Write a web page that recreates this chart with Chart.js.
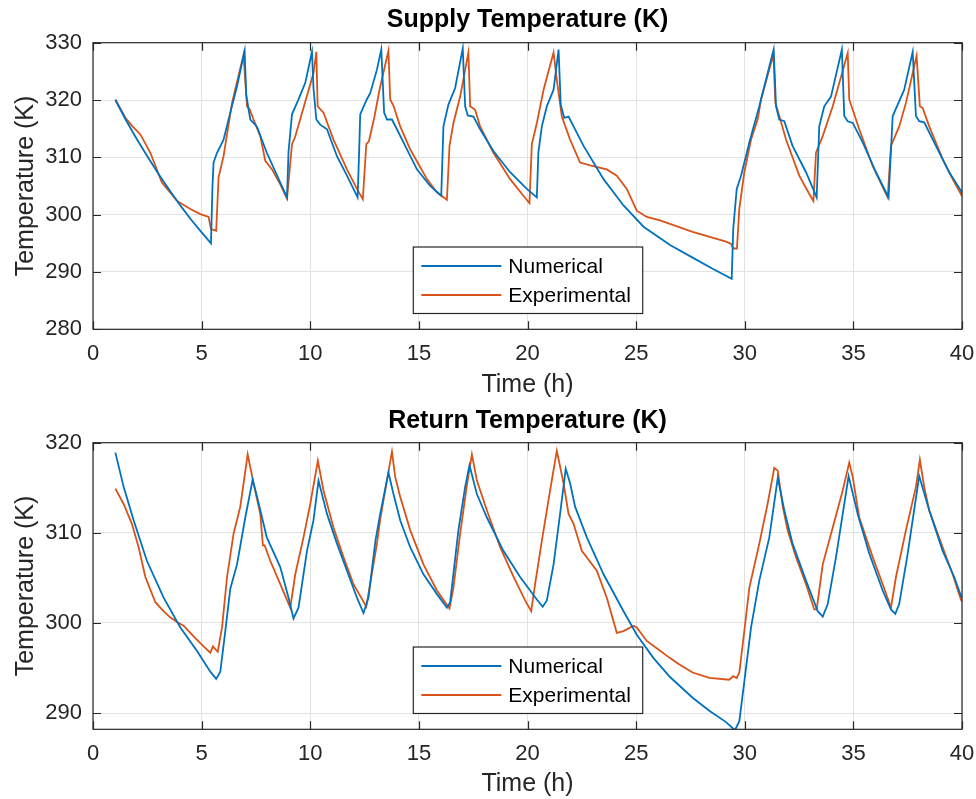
<!DOCTYPE html>
<html>
<head>
<meta charset="utf-8">
<title>Supply and Return Temperature</title>
<script src="https://cdn.jsdelivr.net/npm/chart.js@4.4.0/dist/chart.umd.min.js"></script>
<style>
    html, body { margin: 0; padding: 0; background: #ffffff; }
    canvas { display: block; }
</style>
</head>
<body>
<canvas id="supplyChart" width="976" height="400"></canvas>
<canvas id="returnChart" width="976" height="399"></canvas>
<script>
// Tick labels
const timeTicks = [0, 5, 10, 15, 20, 25, 30, 35, 40];
const supplyTicks = [280, 290, 300, 310, 320, 330];
const returnTicks = [290, 300, 310, 320];

// Supply temperature - numerical
const supplyNumTime = [1.03, 1.5, 2, 2.5, 3, 3.5, 4, 4.5, 5, 5.43,
    5.5, 5.55, 5.71, 6.01, 6.32, 6.63, 6.98,
    7.05, 7.24, 7.39, 7.55, 8.0, 8.62, 8.93,
    9.0, 9.16, 9.46, 9.77, 10.08,
    10.15, 10.28, 10.46, 10.77, 11.23, 11.69, 12.18,
    12.25, 12.3, 12.6, 12.76, 13.07, 13.27,
    13.4, 13.53, 13.76, 13.99, 14.29, 14.91, 15.52, 16.03,
    16.13, 16.36, 16.67, 17.02,
    17.13, 17.25, 17.51, 17.82, 18.43, 19.2, 19.97, 20.43,
    20.5, 20.66, 20.89, 21.2, 21.43,
    21.53, 21.69, 21.89, 22.12, 22.58, 23.5, 24.42, 25.34, 26.56, 27.6, 28.5, 29.4,
    29.47, 29.63, 29.83, 30.21, 30.67, 31.33,
    31.44, 31.59, 31.82, 32.2, 32.82, 33.31,
    33.43, 33.66, 33.97, 34.47,
    34.58, 34.74, 34.97, 35.43, 36.04, 36.62,
    36.81, 37.04, 37.34, 37.73,
    37.88, 38.03, 38.26, 38.8, 39.41, 39.95, 40];
const supplyNum = [320.0, 316.6, 313.3, 310.2, 307.2, 304.4, 301.7, 299.2, 296.9, 295.0,
    305.0, 309.1, 310.8, 313.1, 317.8, 322.4, 328.6,
    321.0, 316.6, 316.0, 315.3, 310.8, 305.6, 303.0,
    311.0, 317.5, 320.1, 323.0, 328.4,
    322.0, 316.6, 315.7, 314.9, 310.2, 306.8, 303.0,
    311.0, 317.5, 320.1, 321.2, 325.3, 328.8,
    317.8, 316.6, 316.6, 314.9, 312.6, 307.9, 305.0, 303.3,
    315.4, 319.2, 322.1, 329.0,
    318.9, 317.3, 317.1, 314.9, 311.1, 307.4, 304.5, 303.0,
    310.8, 315.4, 318.9, 321.8, 328.8,
    319.2, 316.9, 317.1, 315.4, 312.0, 306.2, 301.6, 297.9, 294.7, 292.5, 290.6, 288.8,
    297.5, 304.5, 306.8, 312.6, 318.9, 328.8,
    318.9, 316.6, 316.3, 312.0, 307.4, 303.0,
    315.4, 318.9, 320.6, 328.8,
    317.2, 316.3, 316.0, 312.6, 307.4, 303.0,
    317.2, 319.2, 321.8, 328.4,
    317.2, 316.3, 316.1, 312.0, 307.4, 304.2, 303.8];

// Supply temperature - experimental
const supplyExpTime = [1.03, 1.49, 1.8, 2.18, 2.64, 3.17, 3.87, 4.48, 4.94, 5.32, 5.43, 5.67,
    5.78, 6.01, 6.4, 6.93,
    7.09, 7.22, 7.39, 7.7, 7.93, 8.24, 8.62, 8.93,
    9.16, 9.3, 10.15, 10.28,
    10.34, 10.61, 11.07, 11.69, 12.15, 12.42,
    12.58, 12.7, 12.95, 13.2, 13.6,
    13.68, 13.83, 14.14, 14.6, 15.37, 15.83, 16.29,
    16.41, 16.59, 16.9, 17.28,
    17.36, 17.59, 17.82, 18.43, 19.2, 19.81, 20.09,
    20.2, 20.43, 20.74, 21.2,
    21.35, 21.58, 21.96, 22.42, 22.88, 23.65, 24.11, 24.57, 25.03, 25.49, 26.1, 27.6, 29.14, 29.37, 29.47, 29.64,
    29.75, 29.98, 30.29, 30.6, 30.75, 31.32,
    31.41, 31.59, 31.9, 32.51, 32.97, 33.16,
    33.28, 33.59, 34.05, 34.74,
    34.81, 34.97, 35.27, 35.89, 36.58,
    36.73, 37.11, 37.42, 37.91,
    38.06, 38.19, 38.49, 39.11, 39.57, 39.95, 40];
const supplyExp = [320.1, 316.9, 315.5, 314.0, 310.8, 305.6, 302.4, 301.0, 300.1, 299.6, 297.5, 297.2,
    306.5, 310.2, 319.5, 327.9,
    318.9, 318.3, 316.6, 313.7, 309.4, 307.9, 305.3, 302.8,
    312.3, 313.5, 324.7, 328.4,
    318.9, 317.8, 313.1, 307.9, 304.5, 302.7,
    312.3, 312.8, 317.0, 322.0, 328.6,
    320.1, 319.0, 315.4, 311.4, 306.2, 303.9, 302.6,
    312.0, 316.0, 320.6, 328.3,
    318.9, 318.3, 315.4, 310.8, 306.2, 303.3, 302.0,
    312.3, 316.0, 321.8, 328.3,
    323.5, 317.1, 313.1, 309.1, 308.6, 307.9, 306.8, 304.5, 300.7, 299.6, 299.0, 297.0, 295.3, 294.9, 294.1, 294.1,
    301.0, 307.4, 313.1, 316.7, 320.1, 328.0,
    319.5, 317.2, 313.1, 306.8, 303.6, 302.4,
    310.8, 313.7, 318.9, 328.2,
    320.1, 318.3, 314.9, 308.5, 303.0,
    312.0, 315.4, 319.5, 327.7,
    318.9, 318.6, 315.4, 309.7, 306.2, 303.6, 303.2];

// Return temperature - numerical
const returnNumTime = [1.03, 1.41, 1.87, 2.48, 3.25, 4.02, 4.79, 5.4, 5.67, 5.86,
    6.09, 6.32, 6.63, 7.01, 7.35,
    7.55, 8.0, 8.62, 9.0, 9.23, 9.46,
    9.85, 10.15, 10.38,
    10.77, 11.23, 11.69, 12.15, 12.45, 12.68,
    13.0, 13.22, 13.6,
    13.83, 14.14, 14.6, 15.21, 15.83, 16.29, 16.44,
    16.82, 17.13, 17.33,
    17.67, 18.13, 18.89, 19.66, 20.43, 20.7, 20.89,
    21.2, 21.5, 21.76,
    21.96, 22.19, 22.73, 23.5, 24.42, 25.03, 25.8, 26.56, 27.6, 28.4, 29.14, 29.55, 29.75,
    29.98, 30.29, 30.67, 31.13, 31.52,
    31.82, 32.2, 32.82, 33.36, 33.59, 33.82,
    34.2, 34.78,
    35.2, 35.73, 36.35, 36.73, 36.93, 37.11,
    37.5, 38.03,
    38.49, 39.11, 39.64, 39.95, 40];
const returnNum = [318.9, 315.1, 311.4, 306.9, 302.8, 299.5, 296.9, 294.6, 293.8, 294.6,
    299.1, 303.8, 306.5, 311.7, 315.9,
    314.0, 309.5, 306.2, 302.8, 300.5, 301.7,
    308.0, 311.4, 315.8,
    312.1, 308.8, 305.8, 302.8, 301.1, 302.8,
    309.1, 312.1, 316.7,
    314.3, 311.4, 308.4, 305.4, 303.2, 301.7, 302.3,
    310.3, 315.1, 317.5,
    314.3, 311.7, 308.0, 305.1, 302.6, 301.8, 302.5,
    306.5, 312.1, 317.1,
    315.5, 312.9, 309.5, 305.4, 301.3, 298.7, 296.1, 294.0, 291.7, 290.2, 289.0, 288.1, 289.1,
    293.5, 299.5, 304.7, 309.5, 316.1,
    312.5, 308.8, 304.7, 301.3, 300.7, 302.1,
    307.3, 316.3,
    312.1, 307.7, 303.6, 301.5, 301.0, 302.1,
    307.7, 316.3,
    312.5, 308.0, 305.1, 303.0, 302.8];

// Return temperature - experimental
const returnExpTime = [1.03, 1.41, 1.79, 2.1, 2.41, 2.87, 3.17, 3.56, 3.87, 4.17, 4.63, 5.09, 5.4, 5.52, 5.74,
    5.94, 6.17, 6.47, 6.78, 7.12,
    7.39, 7.7, 7.82, 7.9, 8.16, 8.62, 9.08,
    9.31, 9.69, 10.0, 10.35,
    10.61, 11.07, 11.53, 11.99, 12.58,
    13.07, 13.22, 13.76,
    13.91, 14.14, 14.6, 15.21, 15.83, 16.41,
    16.59, 16.9, 17.2, 17.44,
    17.67, 18.13, 18.74, 19.36, 19.89, 20.17,
    20.35, 20.66, 21.04, 21.35,
    21.66, 21.89, 22.12, 22.5, 23.19, 23.65, 24.11, 24.42, 24.88, 25.03, 25.49, 25.95, 26.56,
    26.99, 27.6, 28.37, 29.29, 29.47, 29.63, 29.75,
    29.98, 30.21, 30.67, 31.05, 31.36, 31.52,
    31.75, 31.97, 32.36, 32.82, 33.2, 33.31,
    33.59, 34.05, 34.51, 34.81,
    34.97, 35.27, 35.89, 36.35, 36.73,
    36.96, 37.42, 37.88, 38.06,
    38.26, 38.49, 39.11, 39.57, 39.95, 40];
const returnExp = [314.9, 313.2, 311.0, 308.4, 305.1, 302.3, 301.5, 300.6, 300.1, 299.7, 298.5, 297.4, 296.7, 297.4, 296.8,
    299.5, 305.1, 309.9, 312.9, 318.7,
    315.5, 312.1, 308.6, 308.6, 306.9, 304.3, 301.7,
    305.4, 309.5, 313.2, 318.0,
    314.7, 310.6, 307.3, 304.3, 301.8,
    308.8, 311.5, 319.0,
    316.2, 314.0, 310.3, 306.5, 303.6, 301.6,
    303.9, 309.9, 315.1, 318.7,
    315.8, 312.5, 308.4, 305.1, 302.5, 301.3,
    304.3, 309.1, 314.7, 319.1,
    315.5, 312.1, 311.0, 308.0, 305.8, 302.8, 298.9, 299.1, 299.7, 299.5, 298.0, 297.2, 296.1,
    295.4, 294.5, 293.9, 293.7, 294.1, 293.9, 294.5,
    299.1, 303.9, 308.8, 313.2, 317.2, 316.9,
    312.9, 310.3, 307.3, 304.3, 301.5, 301.5,
    306.5, 310.6, 314.7, 317.8,
    316.2, 311.7, 307.3, 304.3, 301.7,
    305.1, 310.3, 315.1, 318.1,
    315.1, 312.5, 308.4, 305.4, 302.6, 302.4];

const FONT = '"Liberation Sans", Arial, Helvetica, sans-serif';
const TEXT_COLOR = '#262626';
const GRID_COLOR = '#e2e2e2';
const BLUE = '#0072bd';
const ORANGE = '#d95319';

function toPoints(times, values) {
    return times.map((t, i) => ({ x: t, y: values[i] }));
}

// MATLAB-like axes box, inward ticks, title and legend
const matlabAxes = {
    id: 'matlabAxes',
    afterDatasetsDraw(chart, args, opts) {
        const { ctx, chartArea: a, scales: { x, y } } = chart;
        ctx.save();

        ctx.strokeStyle = TEXT_COLOR;
        ctx.lineWidth = 1.2;
        ctx.strokeRect(a.left, a.top, a.right - a.left, a.bottom - a.top);

        const tickLen = 8;
        ctx.beginPath();
        x.ticks.forEach(t => {
            const px = Math.round(x.getPixelForValue(t.value)) + 0.5;
            ctx.moveTo(px, a.bottom); ctx.lineTo(px, a.bottom - tickLen);
            ctx.moveTo(px, a.top); ctx.lineTo(px, a.top + tickLen);
        });
        y.ticks.forEach(t => {
            const py = Math.round(y.getPixelForValue(t.value)) + 0.5;
            ctx.moveTo(a.left, py); ctx.lineTo(a.left + tickLen, py);
            ctx.moveTo(a.right, py); ctx.lineTo(a.right - tickLen, py);
        });
        ctx.stroke();

        // title
        ctx.fillStyle = '#000000';
        ctx.font = 'bold 25px ' + FONT;
        ctx.textAlign = 'center';
        ctx.textBaseline = 'middle';
        ctx.fillText(opts.title, (a.left + a.right) / 2, a.top - opts.titleGap);

        // legend
        const lg = opts.legendBox;
        ctx.fillStyle = '#ffffff';
        ctx.fillRect(lg.x, lg.y, lg.w, lg.h);
        ctx.strokeStyle = TEXT_COLOR;
        ctx.lineWidth = 1.2;
        ctx.strokeRect(lg.x, lg.y, lg.w, lg.h);
        ctx.font = '21px ' + FONT;
        ctx.textAlign = 'left';
        chart.data.datasets.forEach((ds, i) => {
            const rowY = lg.y + 19 + i * 29;
            ctx.strokeStyle = ds.borderColor;
            ctx.lineWidth = 1.8;
            ctx.beginPath();
            ctx.moveTo(lg.x + 8, rowY);
            ctx.lineTo(lg.x + 88, rowY);
            ctx.stroke();
            ctx.fillStyle = '#000000';
            ctx.fillText(ds.label, lg.x + 95, rowY + 1);
        });

        ctx.restore();
    }
};

function makeChart(canvasId, title, yMin, yMax, yTicks, numPts, expPts, chartHeight, titleGap) {
    const ctx = document.getElementById(canvasId).getContext('2d');
    return new Chart(ctx, {
        type: 'line',
        data: {
            datasets: [{
                label: 'Numerical',
                data: numPts,
                borderColor: BLUE,
                borderWidth: 1.8,
                pointRadius: 0,
                tension: 0,
                fill: false
            }, {
                label: 'Experimental',
                data: expPts,
                borderColor: ORANGE,
                borderWidth: 1.8,
                pointRadius: 0,
                tension: 0,
                fill: false
            }]
        },
        options: {
            responsive: false,
            animation: false,
            layout: { padding: { top: 42.7, right: 14, bottom: 0, left: 0 } },
            plugins: {
                legend: { display: false },
                tooltip: { enabled: false },
                matlabAxes: {
                    title: title,
                    titleGap: titleGap,
                    legendBox: { x: 413.3, y: 247, w: 229.4, h: 66.5 }
                }
            },
            scales: {
                x: {
                    type: 'linear',
                    min: 0,
                    max: 40,
                    afterBuildTicks: scale => { scale.ticks = timeTicks.map(v => ({ value: v })); },
                    afterFit: scale => {
                        scale.height = chartHeight - 329.3;
                        scale.paddingLeft = 0;
                        scale.paddingRight = 0;
                    },
                    grid: { color: GRID_COLOR, drawTicks: false },
                    border: { display: false },
                    ticks: {
                        color: TEXT_COLOR,
                        font: { family: FONT, size: 22 },
                        padding: 11,
                        maxRotation: 0
                    },
                    title: {
                        display: true,
                        text: 'Time (h)',
                        color: TEXT_COLOR,
                        font: { family: FONT, size: 25 },
                        padding: { top: 0, bottom: 0 }
                    }
                },
                y: {
                    type: 'linear',
                    min: yMin,
                    max: yMax,
                    afterBuildTicks: scale => { scale.ticks = yTicks.map(v => ({ value: v })); },
                    afterFit: scale => {
                        scale.width = 93;
                        scale.paddingTop = 0;
                        scale.paddingBottom = 0;
                    },
                    grid: { color: GRID_COLOR, drawTicks: false },
                    border: { display: false },
                    ticks: {
                        color: TEXT_COLOR,
                        font: { family: FONT, size: 22 },
                        padding: 11
                    },
                    title: {
                        display: true,
                        text: 'Temperature (K)',
                        color: TEXT_COLOR,
                        font: { family: FONT, size: 25 },
                        padding: { top: 11, bottom: 0 }
                    }
                }
            }
        },
        plugins: [matlabAxes]
    });
}

makeChart('supplyChart', 'Supply Temperature (K)', 280, 330, supplyTicks,
    toPoints(supplyNumTime, supplyNum), toPoints(supplyExpTime, supplyExp), 400, 23);
makeChart('returnChart', 'Return Temperature (K)', 288.2, 320, returnTicks,
    toPoints(returnNumTime, returnNum), toPoints(returnExpTime, returnExp), 399, 21.5);
</script>
</body>
</html>
